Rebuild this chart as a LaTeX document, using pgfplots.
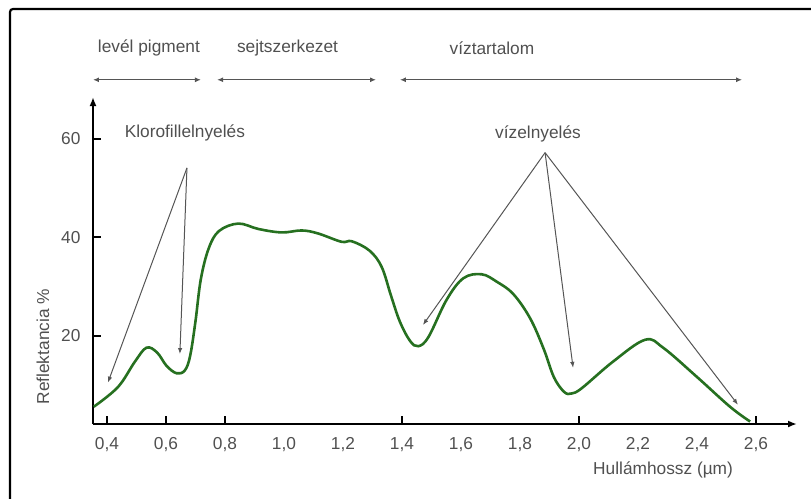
\documentclass[border=0pt]{standalone}
\usepackage{pgfplots}
\pgfplotsset{compat=1.18}
\usepackage{fontspec}
\setmainfont{Liberation Sans}
\usetikzlibrary{arrows.meta}
\definecolor{leafgreen}{RGB}{38,112,32}
\definecolor{txtgray}{RGB}{80,80,80}
\definecolor{arrgray}{RGB}{85,85,85}
\newcommand{\lbl}{\fontsize{17.3}{20}\selectfont}
\begin{document}
\begin{tikzpicture}
\useasboundingbox (-93pt,-74pt) rectangle (718pt,424pt);
% frame
\draw[line width=2.2pt, rounded corners=3pt] (-83pt,-80pt) -- (-83pt,415pt) -- (725pt,415pt);
\begin{axis}[
  scale only axis,
  width=704pt, height=327pt,
  xmin=0.3525, xmax=2.739,
  ymin=2.1, ymax=68.5,
  axis x line=bottom, axis y line=left,
  axis line style={line width=1.8pt, -{Latex[length=9pt,width=7pt]}},
  clip=false,
  xtick={0.4,0.6,0.8,1.0,1.2,1.4,1.6,1.8,2.0,2.2,2.4,2.6},
  xticklabels={{0,4},{0,6},{0,8},{1,0},{1,2},{1,4},{1,6},{1,8},{2,0},{2,2},{2,4},{2,6}},
  ytick={20,40,60},
  major tick length=0pt,
  /pgf/number format/assume math mode=true,
  ticklabel style={font=\lbl, text=txtgray},
  xticklabel style={yshift=-10pt},
  yticklabel style={xshift=-9pt},
]
\addplot[smooth, tension=0.6, line width=2.6pt, color=leafgreen] coordinates {
(0.355,5.6) (0.437,9.6) (0.495,14.8) (0.534,17.6) (0.570,16.6) (0.602,13.9)
(0.636,12.4) (0.664,13.0) (0.682,16.0) (0.700,23.0) (0.718,31.5) (0.745,37.8)
(0.780,41.3) (0.845,42.8) (0.913,41.7) (0.992,41.0) (1.06,41.4) (1.115,40.8)
(1.195,39.1) (1.23,39.2) (1.290,37.3) (1.331,34.0) (1.362,28.3) (1.392,23.0)
(1.427,19.0) (1.455,17.9) (1.490,19.8) (1.551,27.3) (1.608,31.7) (1.67,32.5)
(1.721,31.0) (1.777,28.5) (1.834,23.6) (1.880,17.4) (1.915,11.6) (1.950,8.6)
(1.975,8.3) (2.010,9.4) (2.116,14.8) (2.224,19.2) (2.285,17.6) (2.399,11.7)
(2.512,5.6) (2.58,2.6)};
% tick marks (inside, only at some positions)
\draw[black, line width=2pt] (axis cs:0.4,2.1) -- (axis cs:0.4,3.7);
\draw[black, line width=2pt] (axis cs:0.6,2.1) -- (axis cs:0.6,3.7);
\draw[black, line width=2pt] (axis cs:0.8,2.1) -- (axis cs:0.8,3.7);
\draw[black, line width=2pt] (axis cs:1.4,2.1) -- (axis cs:1.4,3.7);
\draw[black, line width=2pt] (axis cs:2.0,2.1) -- (axis cs:2.0,3.7);
\draw[black, line width=2pt] (axis cs:2.6,2.1) -- (axis cs:2.6,3.7);
\draw[black, line width=2pt] (axis cs:0.3525,20) -- (axis cs:0.3795,20);
\draw[black, line width=2pt] (axis cs:0.3525,40) -- (axis cs:0.3795,40);
\draw[black, line width=2pt] (axis cs:0.3525,60) -- (axis cs:0.3795,60);
% range arrows
\draw[arrgray, line width=1.3pt, {Latex[length=6pt,width=5pt]}-{Latex[length=6pt,width=5pt]}] (axis cs:0.3525,72) -- (axis cs:0.7186,72);
\draw[arrgray, line width=1.3pt, {Latex[length=6pt,width=5pt]}-{Latex[length=6pt,width=5pt]}] (axis cs:0.773,72) -- (axis cs:1.312,72);
\draw[arrgray, line width=1.3pt, {Latex[length=6pt,width=5pt]}-{Latex[length=6pt,width=5pt]}] (axis cs:1.393,72) -- (axis cs:2.553,72);
\node[font=\lbl, text=txtgray] at (axis cs:0.542,78.4) {levél pigment};
\node[font=\lbl, text=txtgray] at (axis cs:1.012,78.4) {sejtszerkezet};
\node[font=\lbl, text=txtgray] at (axis cs:1.705,78.4) {víztartalom};
% absorption annotations
\node[font=\lbl, text=txtgray] at (axis cs:0.664,61.2) {Klorofillelnyelés};
\draw[arrgray, line width=1pt, -{Latex[length=6pt,width=4.5pt]}] (axis cs:0.671,54.1) -- (axis cs:0.403,10.5);
\draw[arrgray, line width=1pt, -{Latex[length=6pt,width=4.5pt]}] (axis cs:0.671,54.1) -- (axis cs:0.647,16.3);
\node[font=\lbl, text=txtgray] at (axis cs:1.861,61.0) {vízelnyelés};
\draw[arrgray, line width=1pt, -{Latex[length=6pt,width=4.5pt]}] (axis cs:1.885,57.2) -- (axis cs:1.471,22.2);
\draw[arrgray, line width=1pt, -{Latex[length=6pt,width=4.5pt]}] (axis cs:1.885,57.2) -- (axis cs:1.98,13.5);
\draw[arrgray, line width=1pt, -{Latex[length=6pt,width=4.5pt]}] (axis cs:1.885,57.2) -- (axis cs:2.539,6.0);
% axis titles
\node[font=\lbl, text=txtgray, rotate=90] at (axis cs:0.183,17.8) {Reflektancia \%};
\node[font=\lbl, text=txtgray] at (axis cs:2.285,-7.2) {Hullámhossz (µm)};
\end{axis}
\end{tikzpicture}
\end{document}
